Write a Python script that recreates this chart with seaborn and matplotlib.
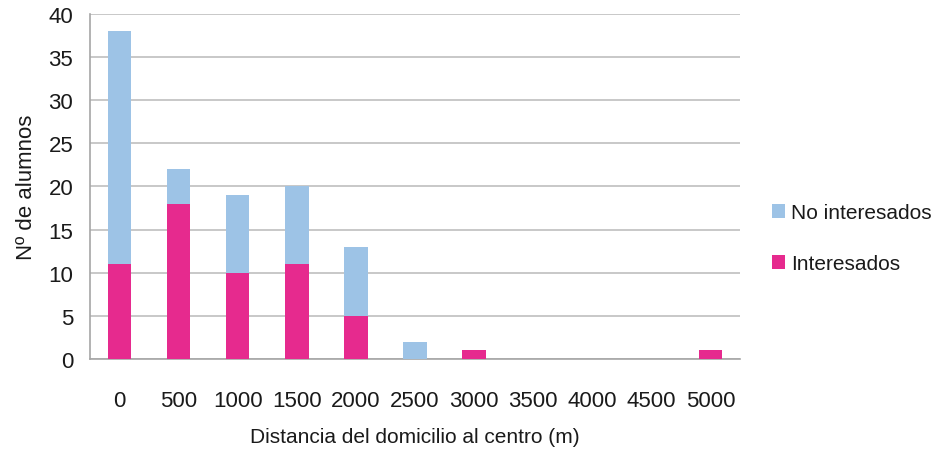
import matplotlib
matplotlib.use("Agg")
import matplotlib.pyplot as plt
import seaborn as sns
import pandas as pd
import numpy as np

# Datos
distancias = ['0', '500', '1000', '1500', '2000', '2500', '3000', '3500', '4000', '4500', '5000']
interesados = [11, 18, 10, 11, 5, 0, 1, 0, 0, 0, 1]
no_interesados = [27, 4, 9, 9, 8, 2, 0, 0, 0, 0, 0]

color_no = '#9DC3E6'
color_si = '#E62A8E'
gris = '#A6A6A6'

sns.set_theme(style="white")
plt.rcParams['font.family'] = ['Liberation Sans', 'DejaVu Sans']

df = pd.DataFrame({'dist': distancias,
                   'si': interesados,
                   'total': np.array(interesados) + np.array(no_interesados)})

fig = plt.figure(figsize=(9.39, 4.52), dpi=100)
ax = fig.add_axes([0.0958, 0.2035, 0.6922, 0.7635])

# barras apiladas: total (azul) y encima interesados (magenta)
sns.barplot(data=df, x='dist', y='total', order=distancias, color=color_no,
            width=0.4, saturation=1, linewidth=0, ax=ax, label='No interesados', zorder=3)
sns.barplot(data=df, x='dist', y='si', order=distancias, color=color_si,
            width=0.4, saturation=1, linewidth=0, ax=ax, label='Interesados', zorder=3)

ax.set_ylim(0, 40)
ax.set_xlim(-0.5, len(distancias) - 0.5)
ax.set_yticks(range(0, 41, 5))
ax.yaxis.grid(True, color='#BFBFBF', linewidth=1.2, zorder=0)
ax.set_axisbelow(True)

for s in ['top', 'right']:
    ax.spines[s].set_visible(False)
for s in ['left', 'bottom']:
    ax.spines[s].set_color(gris)
    ax.spines[s].set_linewidth(1.2)

ax.tick_params(axis='y', length=7, color=gris, width=1.2, labelsize=16, pad=5,
               labelcolor='#1a1a1a')
ax.tick_params(axis='x', which='major', length=0, labelsize=16, pad=22,
               labelcolor='#1a1a1a')
ax.set_xticks(np.arange(-0.5, len(distancias)), minor=True)
ax.tick_params(axis='x', which='minor', length=7, color=gris, width=1.2)

ax.set_xlabel('Distancia del domicilio al centro (m)', fontsize=15, labelpad=12,
              color='#1a1a1a')
ax.set_ylabel('Nº de alumnos', fontsize=16, labelpad=8, color='#1a1a1a')

handles, labels = ax.get_legend_handles_labels()
ax.legend(handles, labels, loc='center left', bbox_to_anchor=(1.02, 0.35),
          frameon=False, fontsize=15, handlelength=0.65, handleheight=0.65,
          handletextpad=0.3, labelspacing=1.55, labelcolor='#1a1a1a')

fig.savefig('out.png', dpi=100)
